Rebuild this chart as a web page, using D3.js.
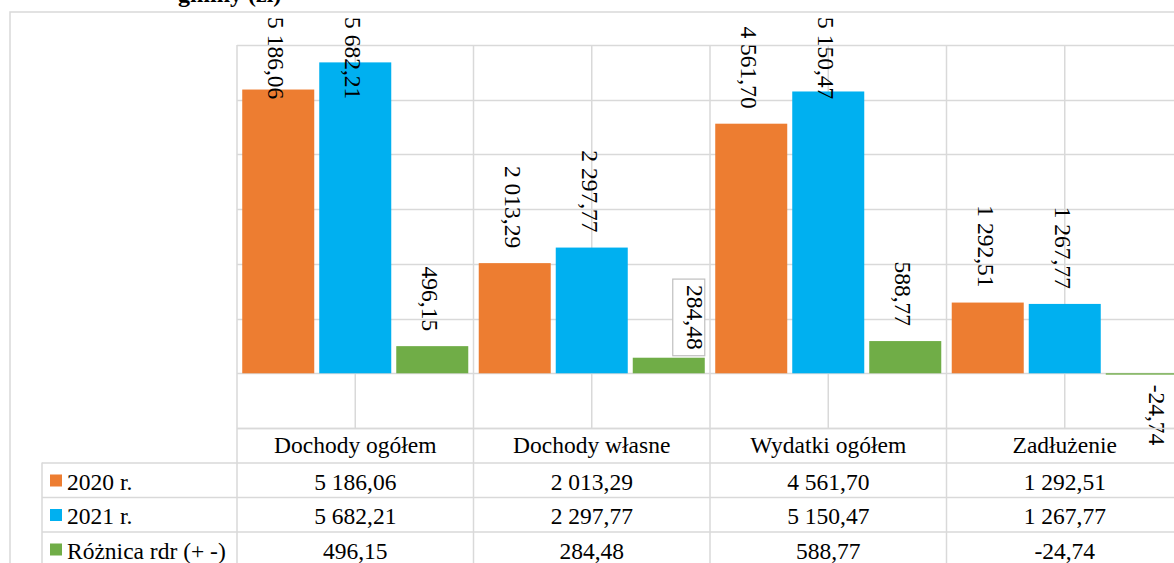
<!DOCTYPE html>
<html>
<head>
<meta charset="utf-8">
<script src="https://cdn.jsdelivr.net/npm/d3@7"></script>
<style>
  html, body { margin: 0; padding: 0; background: #ffffff; }
  svg { display: block; }
  text { font-family: "Liberation Serif", "Times New Roman", serif; fill: #000; }
</style>
</head>
<body>
<svg id="chart" width="1174" height="563"></svg>
<script>
// Budget indicators of the commune, 2020 vs 2021 (PLN)
const categories = ["Dochody ogółem", "Dochody własne", "Wydatki ogółem", "Zadłużenie"];
const seriesNames = ["2020 r.", "2021 r.", "Różnica rdr (+ -)"];
const values2020 = [5186.06, 2013.29, 4561.70, 1292.51];
const values2021 = [5682.21, 2297.77, 5150.47, 1267.77];
const valuesDiff = [496.15, 284.48, 588.77, -24.74];
const seriesColors = ["#ED7D31", "#00B0F0", "#70AD47"];
const yTicks = [-1000, 0, 1000, 2000, 3000, 4000, 5000, 6000];
const titleText = "gminy (zł)";

const seriesValues = [values2020, values2021, valuesDiff];

const pl = d3.formatLocale({ decimal: ",", thousands: " ", grouping: [3], currency: ["", " zł"], minus: "-" });
const fmt = pl.format(",.2f");

const svg = d3.select("#chart");
const W = 1174, H = 563;
const FONT = "'Liberation Serif', 'Times New Roman', serif";

// layout
const plot = { left: 237, right: 1183, top: 45, bottom: 428 };
const legendLeft = 42;
const rowH = 34.5;
const gridColor = "#d9d9d9";
const fontSize = 23.5;

svg.append("rect").attr("width", W).attr("height", H).attr("fill", "#fff");

// chart title (only its lower part falls inside the frame)
svg.append("text")
  .attr("x", 178).attr("y", 2)
  .attr("font-family", FONT)
  .attr("font-size", 24).attr("font-weight", "bold")
  .text(titleText);

// outer chart frame
svg.append("path")
  .attr("d", `M10,${H + 5} V12 H${W + 5}`)
  .attr("fill", "none").attr("stroke", gridColor).attr("stroke-width", 1.5);

const y = d3.scaleLinear()
  .domain([d3.min(yTicks), d3.max(yTicks)])
  .range([plot.bottom, plot.top]);

const x0 = d3.scaleBand().domain(categories).range([plot.left, plot.right]).padding(0);
const x1 = d3.scaleBand().domain(seriesNames).range([0, x0.bandwidth()])
  .paddingInner(0.065).paddingOuter(0.068);

// horizontal gridlines
svg.append("g")
  .selectAll("line").data(yTicks).join("line")
  .attr("x1", plot.left).attr("x2", W + 5)
  .attr("y1", d => Math.round(y(d)) + 0.5).attr("y2", d => Math.round(y(d)) + 0.5)
  .attr("stroke", gridColor).attr("stroke-width", 1.5);

// vertical gridlines at category edges and centres
const vLines = [];
categories.forEach(c => { vLines.push(x0(c)); vLines.push(x0(c) + x0.bandwidth() / 2); });
vLines.push(plot.right);
svg.append("g")
  .selectAll("line").data(vLines).join("line")
  .attr("x1", d => d).attr("x2", d => d)
  .attr("y1", plot.top).attr("y2", plot.bottom)
  .attr("stroke", gridColor).attr("stroke-width", 1.5);

// bars
const barData = [];
categories.forEach((c, ci) => {
  seriesNames.forEach((s, si) => {
    barData.push({ cat: c, series: s, si, value: seriesValues[si][ci] });
  });
});

svg.append("g")
  .selectAll("rect").data(barData).join("rect")
  .attr("x", d => x0(d.cat) + x1(d.series))
  .attr("width", x1.bandwidth())
  .attr("y", d => y(Math.max(0, d.value)))
  .attr("height", d => Math.abs(y(d.value) - y(0)))
  .attr("fill", d => seriesColors[d.si]);

// value labels, rotated, reading top to bottom
const labelNudge = {
  "Dochody własne|Różnica rdr (+ -)": { dx: 28.5, boxed: true },
  "Zadłużenie|Różnica rdr (+ -)": { dx: 17 }
};
const labelGap = 15, labelMinTop = 17;

const labels = svg.append("g");
barData.forEach(d => {
  const nudge = labelNudge[d.cat + "|" + d.series] || { dx: 0 };
  const cx = x0(d.cat) + x1(d.series) + x1.bandwidth() / 2 + nudge.dx;
  const g = labels.append("g");
  const t = g.append("text")
    .attr("font-family", FONT)
    .attr("font-size", fontSize)
    .attr("y", 10)
    .text(fmt(d.value));
  const len = t.node().getComputedTextLength();
  let top;
  if (d.value < 0) {
    top = y(d.value) + 10;
  } else if (nudge.boxed) {
    top = y(d.value) - 8 - len;
  } else {
    top = Math.max(y(d.value) - labelGap - len, labelMinTop);
  }
  g.attr("transform", `translate(${cx},${top}) rotate(90)`);
  if (nudge.boxed) {
    g.insert("rect", "text")
      .attr("x", -6).attr("y", -7.5)
      .attr("width", len + 12).attr("height", 32)
      .attr("fill", "#fff").attr("stroke", "#bfbfbf").attr("stroke-width", 1.2);
  }
});

// data table beneath the plot
const table = svg.append("g");
const rowTops = [plot.bottom, plot.bottom + rowH, plot.bottom + 2 * rowH, plot.bottom + 3 * rowH];

// horizontal table rules
table.append("line")
  .attr("x1", plot.left).attr("x2", W + 5)
  .attr("y1", rowTops[0] + 0.5).attr("y2", rowTops[0] + 0.5)
  .attr("stroke", gridColor).attr("stroke-width", 1.5);
rowTops.slice(1).forEach(ry => {
  table.append("line")
    .attr("x1", legendLeft).attr("x2", W + 5)
    .attr("y1", ry + 0.5).attr("y2", ry + 0.5)
    .attr("stroke", gridColor).attr("stroke-width", 1.5);
});
// vertical table rules
categories.forEach(c => {
  table.append("line")
    .attr("x1", x0(c)).attr("x2", x0(c))
    .attr("y1", plot.bottom).attr("y2", H + 5)
    .attr("stroke", gridColor).attr("stroke-width", 1.5);
});
table.append("line")
  .attr("x1", legendLeft).attr("x2", legendLeft)
  .attr("y1", rowTops[1]).attr("y2", H + 5)
  .attr("stroke", gridColor).attr("stroke-width", 1.5);

// category header row
table.selectAll("text.cat").data(categories).join("text")
  .attr("class", "cat")
  .attr("x", d => x0(d) + x0.bandwidth() / 2)
  .attr("y", rowTops[0] + 25)
  .attr("text-anchor", "middle")
  .attr("font-family", FONT)
  .attr("font-size", fontSize)
  .text(d => d);

// series rows with legend keys
seriesNames.forEach((s, si) => {
  const ry = rowTops[si + 1];
  table.append("rect")
    .attr("x", 50).attr("y", ry + 12)
    .attr("width", 12).attr("height", 12)
    .attr("fill", seriesColors[si]);
  table.append("text")
    .attr("x", 67).attr("y", ry + 27)
    .attr("font-family", FONT)
    .attr("font-size", fontSize)
    .text(s);
  categories.forEach((c, ci) => {
    table.append("text")
      .attr("x", x0(c) + x0.bandwidth() / 2)
      .attr("y", ry + 27)
      .attr("text-anchor", "middle")
      .attr("font-family", FONT)
      .attr("font-size", fontSize)
      .text(fmt(seriesValues[si][ci]));
  });
});
</script>
</body>
</html>
